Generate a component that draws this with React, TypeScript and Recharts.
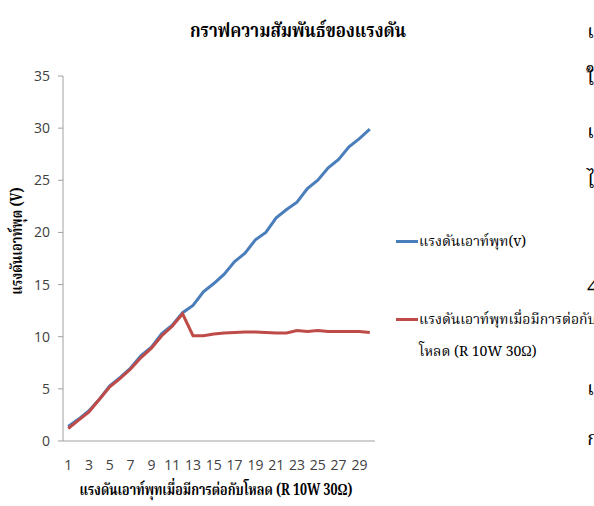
import React from 'react';
import { LineChart, Line, XAxis, YAxis, Legend } from 'recharts';

const categories = [1, 2, 3, 4, 5, 6, 7, 8, 9, 10, 11, 12, 13, 14, 15, 16, 17, 18, 19, 20, 21, 22, 23, 24, 25, 26, 27, 28, 29, 30];
const noLoadVoltage = [1.4, 2.1, 2.9, 4.0, 5.3, 6.1, 7.0, 8.2, 9.0, 10.3, 11.1, 12.3, 13.0, 14.3, 15.1, 16.0, 17.2, 18.0, 19.3, 20.0, 21.4, 22.2, 22.9, 24.2, 25.0, 26.2, 27.0, 28.2, 29.0, 29.9];
const loadVoltage = [1.2, 2.0, 2.8, 4.0, 5.2, 6.0, 6.9, 8.0, 8.9, 10.1, 11.0, 12.2, 10.1, 10.1, 10.25, 10.35, 10.4, 10.45, 10.45, 10.4, 10.35, 10.35, 10.6, 10.5, 10.6, 10.5, 10.5, 10.5, 10.5, 10.4];
const yTicks = [0, 5, 10, 15, 20, 25, 30, 35];
const sideGlyphs = [
  { ch: 'เ', y: 33 },
  { ch: 'ใ้', y: 80 },
  { ch: 'เ', y: 133 },
  { ch: 'ไ', y: 183 },
  { ch: '4', y: 286 },
  { ch: 'เ', y: 390 },
  { ch: 'ก', y: 440 },
];

const seriesNoLoad = 'แรงดันเอาท์พุท(v)';
const seriesLoad = 'แรงดันเอาท์พุทเมื่อมีการต่อกับโหลด (R 10W 30Ω)';
const title = 'กราฟความสัมพันธ์ของแรงดัน';
const xTitle = 'แรงดันเอาท์พุทเมื่อมีการต่อกับโหลด (R 10W 30Ω)';
const yTitle = 'แรงดันเอาท์พุต (V)';

const data = categories.map((c, i) => ({ cat: c, a: noLoadVoltage[i], b: loadVoltage[i] }));

const thaiFont = "'Angsana New', 'TH Sarabun New', 'Noto Serif Thai', 'Noto Sans Thai', Loma, Garuda, 'Liberation Serif', serif";
const numFont = "'Open Sans', 'Noto Sans', sans-serif";

const renderLegend = (props: any) => {
  const payload = props.payload || [];
  return (
    <div style={{ fontFamily: thaiFont, fontSize: 14, color: '#000', textAlign: 'left' }}>
      {payload.map((p: any, i: number) => (
        <div key={i} style={{ position: 'relative', height: i === 0 ? 78 : 60, width: 198 }}>
          <div style={{ position: 'absolute', left: 0, top: 14, width: 22, height: 3, background: p.color }} />
          <div style={{ position: 'absolute', left: 23, top: 0, width: 182, lineHeight: '32px', whiteSpace: 'normal' }}>{p.value}</div>
        </div>
      ))}
    </div>
  );
};

export default function App() {
  return (
    <div style={{ position: 'absolute', left: 0, top: 0, width: 594, height: 506, overflow: 'hidden', background: '#fff' }}>
      <LineChart width={594} height={506} data={data} margin={{ top: 76, right: 219, bottom: 35, left: 0 }}>
        <XAxis dataKey="cat" interval={1} tickLine={false} tickSize={0} tickMargin={19} height={30}
          axisLine={{ stroke: '#a0a0a0' }} padding={{ left: 5.2, right: 5.2 }}
          tick={{ fill: '#404040', fontSize: 14, fontFamily: numFont }} />
        <YAxis domain={[0, 35]} ticks={yTicks} width={63} tickSize={5} tickMargin={8}
          axisLine={{ stroke: '#a0a0a0' }} tickLine={{ stroke: '#a0a0a0' }}
          tick={{ fill: '#404040', fontSize: 14, fontFamily: numFont }} />
        <Legend layout="vertical" verticalAlign="middle" align="center" content={renderLegend}
          wrapperStyle={{ position: 'absolute', left: 396, top: 226, width: 198, right: 'auto', bottom: 'auto' }} />
        <Line type="linear" dataKey="a" name={seriesNoLoad} stroke="#4a7ebb" strokeWidth={3} dot={false} isAnimationActive={false} />
        <Line type="linear" dataKey="b" name={seriesLoad} stroke="#be4b48" strokeWidth={3} dot={false} isAnimationActive={false} />
      </LineChart>
      <div style={{ position: 'absolute', left: 298, top: 16, transform: 'translateX(-50%) scaleX(0.84)', whiteSpace: 'nowrap', fontFamily: thaiFont, fontWeight: 'bold', fontSize: 20, color: '#000' }}>{title}</div>
      <div style={{ position: 'absolute', left: 216, top: 478, transform: 'translateX(-50%) scaleX(0.78)', whiteSpace: 'nowrap', fontFamily: thaiFont, fontWeight: 'bold', fontSize: 16, color: '#000' }}>{xTitle}</div>
      <div style={{ position: 'absolute', left: 18, top: 241, transform: 'translate(-50%, -50%) rotate(-90deg) scaleX(0.8)', whiteSpace: 'nowrap', fontFamily: thaiFont, fontWeight: 'bold', fontSize: 16, color: '#000' }}>{yTitle}</div>
      {sideGlyphs.map((g, i) => (
        <div key={i} style={{ position: 'absolute', left: 587, top: g.y, transform: 'translateY(-50%)', whiteSpace: 'nowrap', fontFamily: g.ch === '4' ? numFont : thaiFont, fontSize: 20, color: '#000' }}>{g.ch}</div>
      ))}
    </div>
  );
}
